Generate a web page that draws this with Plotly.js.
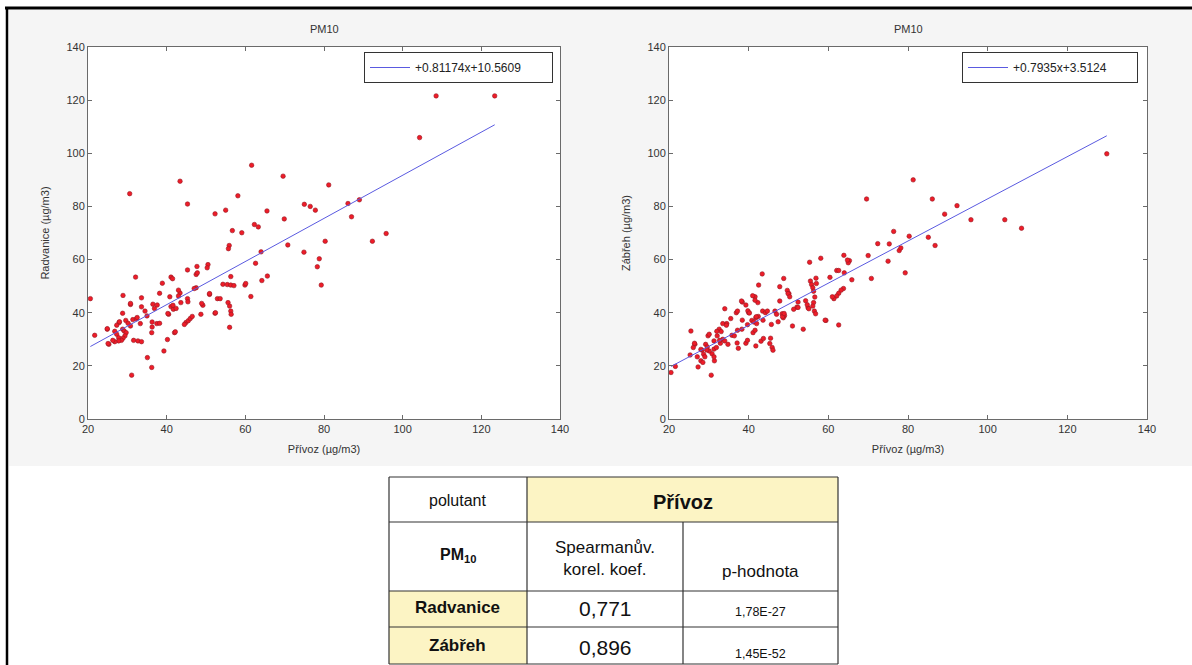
<!DOCTYPE html>
<html>
<head>
<meta charset="utf-8">
<script src="https://cdn.plot.ly/plotly-3.0.1.min.js"></script>
<style>
html,body{margin:0;padding:0;background:#fff;}
#chart{width:1192px;height:665px;}
</style>
</head>
<body>
<div id="chart"></div>
<script>
// ---------- DATA ----------
// Left plot: Přívoz (x) vs Radvanice (y)
const privozR = [108.5,123.4,104.3,61.6,43.4,30.6,69.6,81.2,58.1,45.3,52.3,55.0,65.5,75.0,76.5,77.8,86.1,89.0,87.0,69.9,
 56.7,59.1,62.3,63.3,95.8,92.3,80.3,70.8,55.9,55.7,64.0,74.9,78.8,78.3,62.6,79.3,50.5,50.3,47.7,45.3,
 47.5,41.1,41.5,32.1,38.9,56.3,65.6,64.2,54.3,55.4,56.3,57.1,59.9,61.4,50.9,52.9,53.6,55.6,56.0,56.3,
 56.4,56.0,52.3,48.7,49.2,47.5,45.3,43.4,43.0,43.6,41.1,41.7,40.5,42.0,44.9,45.5,46.0,46.5,44.5,40.2,
 39.3,36.9,38.2,33.6,34.5,35.0,33.3,36.3,36.3,36.2,37.5,35.1,36.2,31.1,30.8,28.9,28.8,29.6,27.9,27.3,
 26.8,27.3,27.8,28.8,29.2,29.7,29.4,28.9,28.5,27.8,26.8,26.3,24.9,25.3,21.7,20.6,31.6,31.4,32.3,30.8,
 32.7,33.6,36.5,38.2,40.3,42.2,40.8,45.4,48.9,50.9,52.4,47.8,43.0,30.2,32.5,28.0,24.9,37.6,41.6,42.4,
 30.8,33.6,47.0,25.1,60.1];
const radvanice = [121.6,121.6,105.9,95.5,89.5,84.8,91.4,88.1,84.0,80.9,77.2,78.6,78.3,80.8,80.0,78.6,81.1,82.5,76.1,75.3,
 70.9,70.1,73.2,72.3,69.8,66.9,66.9,65.5,65.3,64.1,62.9,62.8,60.3,57.3,58.6,50.4,58.1,56.9,57.4,56.1,
 54.4,53.4,52.8,53.4,51.1,53.6,53.8,52.1,50.7,50.6,50.4,50.2,50.4,46.1,46.9,45.3,45.3,43.8,42.5,40.6,
 39.4,34.5,39.8,39.4,42.8,49.4,45.3,47.4,46.3,43.8,42.3,41.3,39.4,32.5,36.3,37.0,37.8,38.6,35.6,29.9,
 25.6,41.6,47.3,45.6,40.6,38.8,35.9,36.5,34.6,32.5,35.9,23.1,19.4,16.5,43.1,46.5,39.8,37.1,36.3,35.3,
 33.0,31.9,30.6,33.8,33.1,32.5,31.3,30.4,29.6,29.4,29.1,29.6,33.8,28.1,31.5,45.3,29.6,37.4,37.7,35.0,
 29.4,29.1,43.2,36.0,39.7,32.8,46.0,44.1,43.5,47.2,40.0,55.0,48.5,36.0,38.2,36.6,34.0,42.9,42.8,41.6,
 43.5,42.2,49.1,28.4,51.0];

// Right plot: Přívoz (x) vs Zábřeh (y)
const privozZ = [129.9,81.3,69.6,86.1,92.3,89.2,95.8,104.3,108.5,76.4,85.1,80.3,86.8,72.4,75.3,70.0,75.0,77.8,78.2,79.3,
 70.8,63.9,65.3,65.0,65.9,62.1,62.6,64.0,63.8,62.6,62.1,61.4,62.6,59.4,60.4,58.1,55.3,55.5,55.8,56.1,
 56.3,56.9,56.6,56.3,56.1,56.5,56.8,54.9,53.7,52.4,52.1,51.3,51.0,49.7,50.1,48.8,47.8,47.8,48.4,49.0,
 48.7,46.6,47.0,47.4,45.7,45.9,46.1,45.5,43.4,42.5,41.6,42.3,43.5,44.2,44.7,42.4,41.8,40.8,41.3,42.0,
 40.0,39.7,39.3,38.4,36.9,38.3,41.1,41.8,43.1,39.3,37.4,35.8,36.4,34.0,33.5,34.5,32.6,33.1,33.5,34.0,
 34.8,31.3,32.1,32.9,31.3,31.9,30.8,30.6,31.4,29.8,30.1,29.2,29.6,30.1,28.3,28.7,29.0,28.0,28.5,27.1,
 27.3,26.5,26.1,25.5,25.3,21.6,20.5,38.2,37.2,39.8,40.2,41.0,41.6,48.5,48.9,49.9,50.3,52.4,54.3,54.7,
 55.1,59.2,61.0,63.2,64.8,28.0,26.4,29.5,31.3,32.7,32.0,34.4,35.5,37.1,39.7,37.2,41.6,43.7,45.3,43.6,
 41.9,38.4,57.0];
const zabreh = [99.8,90.0,82.8,82.8,80.3,77.1,75.0,75.0,71.8,70.6,68.4,68.8,65.3,66.0,65.9,61.5,59.4,63.4,64.4,55.0,
 52.9,61.6,59.6,58.8,52.4,55.9,55.9,55.0,49.1,47.3,46.3,45.3,35.4,37.1,53.3,60.5,59.0,51.9,50.6,49.4,
 48.1,53.0,45.9,43.8,42.5,40.6,39.6,41.9,33.8,44.0,42.1,41.3,35.0,48.4,47.2,52.9,49.8,44.4,39.6,38.9,
 38.1,40.6,39.4,36.6,35.6,26.9,25.9,30.4,54.6,50.4,46.0,43.8,40.6,40.0,40.6,38.6,38.1,37.1,36.5,35.9,
 40.0,35.5,42.9,44.0,40.0,33.8,32.5,27.5,29.3,28.5,26.6,31.5,31.3,41.5,35.9,35.9,33.8,32.9,30.0,29.4,
 28.1,29.4,31.3,28.5,26.3,26.9,24.6,16.5,21.9,31.3,31.9,28.1,27.1,25.6,25.9,24.4,23.4,21.9,21.3,23.4,
 19.6,28.1,26.9,33.1,24.1,19.8,17.5,44.4,40.6,40.7,39.9,46.4,44.7,38.5,39.7,47.2,46.0,42.0,44.5,43.0,
 41.5,37.2,46.0,48.5,59.8,26.2,28.5,26.0,23.4,29.6,33.0,35.3,37.8,28.6,29.6,33.4,33.4,30.3,28.4,37.2,
 38.5,37.2,51.0];

// Regression coefficients [slope, intercept]
const fitR = [0.81174, 10.5609];
const fitZ = [0.7935, 3.5124];
const legendLabels = ["+0.81174x+10.5609", "+0.7935x+3.5124"];
const plotTitles = ["PM10", "PM10"];
const xTitle = "Přívoz (µg/m3)";
const yTitles = ["Radvanice (µg/m3)", "Zábřeh (µg/m3)"];

// Table texts
const tableHeader = ["polutant", "Přívoz"];
const tableSubHeader = ["PM<sub>10</sub>", "Spearmanův.<br>korel. koef.", "p-hodnota"];
const stations = ["Radvanice", "Zábřeh"];
const spearman = ["0,771", "0,896"];
const pValues = ["1,78E-27", "1,45E-52"];

// ---------- LAYOUT HELPERS ----------
const W = 1192, H = 665;
const X = p => p / W;
const Y = p => 1 - p / H;
const FONT = "Liberation Sans, Arial, sans-serif";

function fitLine(xs, c) {
  const x0 = Math.min(...xs), x1 = Math.max(...xs);
  return {x: [x0, x1], y: [c[0] * x0 + c[1], c[0] * x1 + c[1]]};
}
const lR = fitLine(privozR, fitR);
const lZ = fitLine(privozZ, fitZ);

const markerStyle = {color: 'rgb(238,28,40)', size: 4.5, line: {color: 'rgb(150,25,35)', width: 0.6}};

const traces = [
  {type: 'scatter', mode: 'markers', x: privozR, y: radvanice, xaxis: 'x', yaxis: 'y',
   marker: markerStyle, showlegend: false, hoverinfo: 'x+y'},
  {type: 'scatter', mode: 'lines', x: lR.x, y: lR.y, xaxis: 'x', yaxis: 'y',
   line: {color: '#5a5ae0', width: 1}, name: legendLabels[0], legend: 'legend'},
  {type: 'scatter', mode: 'markers', x: privozZ, y: zabreh, xaxis: 'x2', yaxis: 'y2',
   marker: markerStyle, showlegend: false, hoverinfo: 'x+y'},
  {type: 'scatter', mode: 'lines', x: lZ.x, y: lZ.y, xaxis: 'x2', yaxis: 'y2',
   line: {color: '#5a5ae0', width: 1}, name: legendLabels[1], legend: 'legend2'}
];

const axisCommon = {
  showgrid: false, zeroline: false, showline: true, linecolor: '#6a6a6a', linewidth: 1,
  mirror: 'ticks', ticks: 'inside', ticklen: 4, tickcolor: '#6a6a6a',
  tickfont: {family: FONT, size: 11, color: '#333'}, dtick: 20
};

const lx = [88, 560], rx = [669, 1147], ay = [47, 419];

const xa = (dom, anchor) => Object.assign({}, axisCommon, {
  domain: [X(dom[0]), X(dom[1])], range: [20, 140], anchor: anchor, tick0: 20,
  title: {text: xTitle, font: {family: FONT, size: 11, color: '#333'}, standoff: 11}
});
const ya = (dom, anchor, t) => Object.assign({}, axisCommon, {
  domain: [Y(ay[1]), Y(ay[0])], range: [0, 140], anchor: anchor, tick0: 0,
  title: {text: t, font: {family: FONT, size: 11, color: '#333'}, standoff: 14}
});

// ---------- SHAPES ----------
const shapes = [];
const rect = (x0, y0, x1, y1, fill, lineColor, lw) => shapes.push({
  type: 'rect', xref: 'paper', yref: 'paper', layer: 'below',
  x0: X(x0), x1: X(x1), y0: Y(y1), y1: Y(y0),
  fillcolor: fill, line: {color: lineColor || 'rgba(0,0,0,0)', width: lw || 0}
});
const line = (x0, y0, x1, y1, color, w) => shapes.push({
  type: 'line', xref: 'paper', yref: 'paper', layer: 'above',
  x0: X(x0), x1: X(x1), y0: Y(y0), y1: Y(y1), line: {color: color, width: w}
});

// light grey region behind the plots
rect(9, 10, 1192, 466, '#f5f5f5');
// white axes areas
rect(lx[0], ay[0], lx[1], ay[1], '#ffffff');
rect(rx[0], ay[0], rx[1], ay[1], '#ffffff');
// outer black frame (top + left)
line(5, 8, 1192, 8, '#000', 3);
line(7, 8, 7, 665, '#000', 2.5);

// table
const tL = 389, tC1 = 527, tC2 = 683, tR = 838;
const tT = 477, tR1 = 522, tR2 = 591, tR3 = 627, tB = 664;
const yellow = '#fcf4c4';
rect(tC1, tT, tR, tR1, yellow);
rect(tL, tR2, tC1, tR3, yellow);
rect(tL, tR3, tC1, tB, yellow);
line(tL, tT, tR, tT, '#333', 1.2);
line(tL, tB, tR, tB, '#333', 1.2);
line(tL, tT, tL, tB, '#333', 1.2);
line(tR, tT, tR, tB, '#333', 1.2);
line(tL, tR1, tR, tR1, '#333', 1.2);
line(tL, tR2, tR, tR2, '#333', 1.2);
line(tL, tR3, tR, tR3, '#333', 1.2);
line(tC1, tT, tC1, tB, '#333', 1.2);
line(tC2, tR1, tC2, tB, '#333', 1.2);

// ---------- ANNOTATIONS ----------
const ann = [];
const txt = (x, y, t, size, bold, extra) => ann.push(Object.assign({
  xref: 'paper', yref: 'paper', x: X(x), y: Y(y), xanchor: 'center', yanchor: 'middle',
  text: bold ? '<b>' + t + '</b>' : t, showarrow: false,
  font: {family: FONT, size: size, color: '#111'}
}, extra || {}));

txt((lx[0] + lx[1]) / 2, 29, plotTitles[0], 11, false, {font: {family: FONT, size: 11, color: '#333'}});
txt((rx[0] + rx[1]) / 2, 29, plotTitles[1], 11, false, {font: {family: FONT, size: 11, color: '#333'}});

txt((tL + tC1) / 2, 500, tableHeader[0], 16, false);
txt((tC1 + tR) / 2, 502, tableHeader[1], 20, true);
txt((tL + tC1) / 2, 555, tableSubHeader[0], 16, true);
txt((tC1 + tC2) / 2, 558, tableSubHeader[1], 17, false);
txt((tC2 + tR) / 2, 571, tableSubHeader[2], 17, false);
txt((tL + tC1) / 2, 607, stations[0], 17, true);
txt((tL + tC1) / 2, 645, stations[1], 17, true);
txt((tC1 + tC2) / 2, 608, spearman[0], 21, false);
txt((tC1 + tC2) / 2, 647, spearman[1], 21, false);
txt((tC2 + tR) / 2, 612, pValues[0], 12.5, false);
txt((tC2 + tR) / 2, 654, pValues[1], 12.5, false);

const legendCommon = {
  xanchor: 'right', yanchor: 'top', bgcolor: '#ffffff', bordercolor: '#333', borderwidth: 1,
  font: {family: FONT, size: 12, color: '#222'}, orientation: 'h',
  entrywidth: 132, entrywidthmode: 'pixels', itemwidth: 40
};

const layout = {
  width: W, height: H, margin: {l: 0, r: 0, t: 0, b: 0},
  paper_bgcolor: '#ffffff', plot_bgcolor: 'rgba(0,0,0,0)',
  font: {family: FONT},
  xaxis: xa(lx, 'y'), yaxis: ya(lx, 'x', yTitles[0]),
  xaxis2: xa(rx, 'y2'), yaxis2: ya(rx, 'x2', yTitles[1]),
  legend: Object.assign({x: X(553), y: Y(52)}, legendCommon),
  legend2: Object.assign({x: X(1138), y: Y(52)}, legendCommon, {entrywidth: 119}),
  shapes: shapes, annotations: ann, showlegend: true
};

Plotly.newPlot('chart', traces, layout, {displayModeBar: false, staticPlot: true});
</script>
</body>
</html>
